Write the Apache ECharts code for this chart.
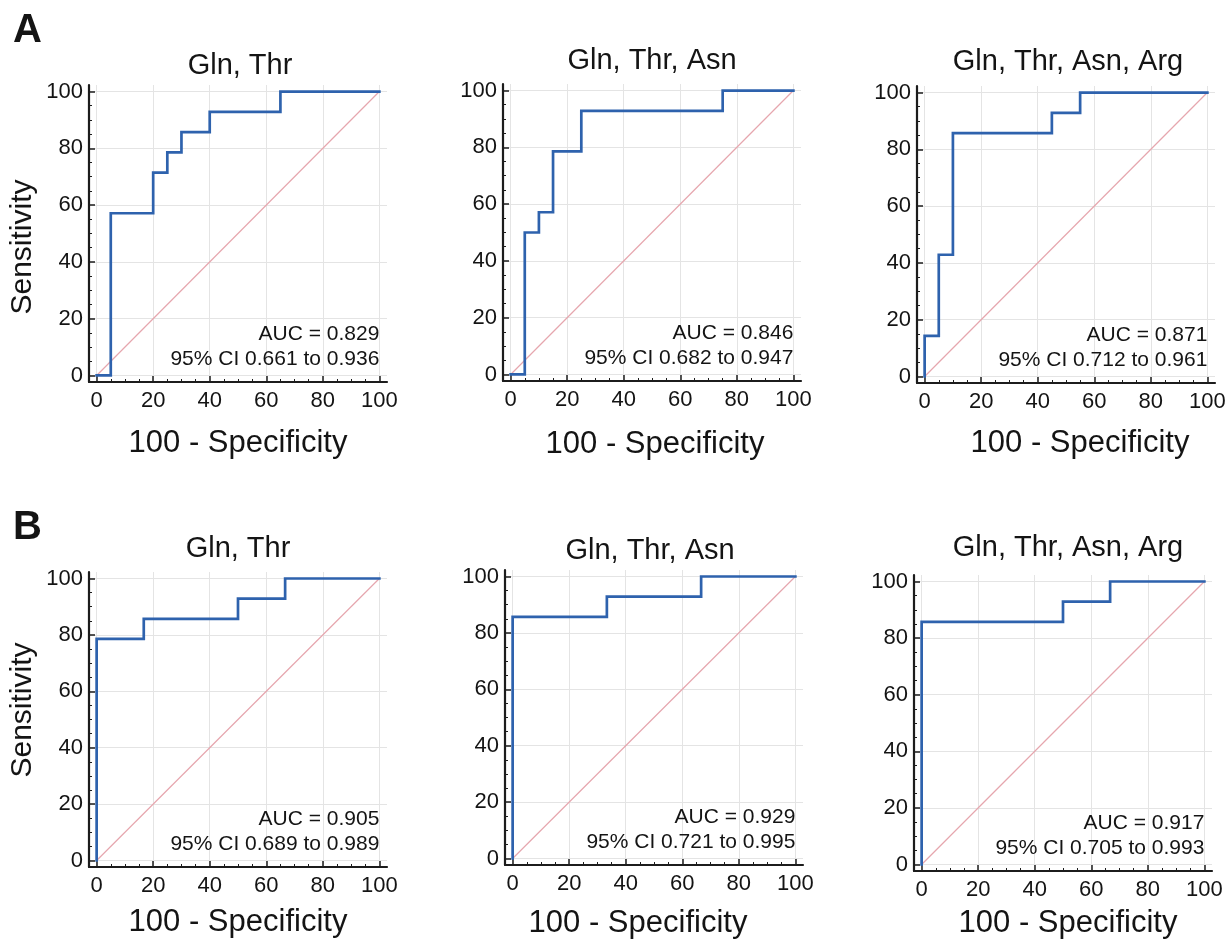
<!DOCTYPE html>
<html>
<head>
<meta charset="utf-8">
<script src="https://cdn.jsdelivr.net/npm/echarts@6/dist/echarts.min.js"></script>
<style>
  html, body { margin: 0; padding: 0; background: #ffffff; }
  #chart { width: 1230px; height: 940px; }
</style>
</head>
<body>
<div id="chart"></div>
<script>
// ---- ROC operating points (100 - specificity, sensitivity), in %, per panel ----
const panelTitles = ['Gln, Thr', 'Gln, Thr, Asn', 'Gln, Thr, Asn, Arg',
                     'Gln, Thr', 'Gln, Thr, Asn', 'Gln, Thr, Asn, Arg'];

const fprA1  = [0, 5, 20, 25, 30, 40, 65, 100];
const sensA1 = [0, 57.14, 71.43, 78.57, 85.71, 92.86, 100, 100];

const fprA2  = [0, 5, 10, 15, 25, 75, 100];
const sensA2 = [0, 50, 57.14, 78.57, 92.86, 100, 100];

const fprA3  = [0, 0, 5, 10, 45, 55, 100];
const sensA3 = [0, 14.29, 42.86, 85.71, 92.86, 100, 100];

const fprB1  = [0, 0, 16.67, 50, 66.67, 100];
const sensB1 = [0, 78.57, 85.71, 92.86, 100, 100];

const fprB2  = [0, 0, 33.33, 66.67, 100];
const sensB2 = [0, 85.71, 92.86, 100, 100];

const fprB3  = [0, 0, 50, 66.67, 100];
const sensB3 = [0, 85.71, 92.86, 100, 100];

const aucValues = ['0.829', '0.846', '0.871', '0.905', '0.929', '0.917'];
const ciLower   = ['0.661', '0.682', '0.712', '0.689', '0.721', '0.705'];
const ciUpper   = ['0.936', '0.947', '0.961', '0.989', '0.995', '0.993'];

// chance diagonal
const chanceX = [0, 100];
const chanceY = [0, 100];

// axis ticks
const xTicks = [0, 20, 40, 60, 80, 100];
const yTicks = [0, 20, 40, 60, 80, 100];
const minorTicks = [5, 10, 15, 25, 30, 35, 45, 50, 55, 65, 70, 75, 85, 90, 95];

const panelLetters = ['A', 'B'];
const xAxisName = '100 - Specificity';
const yAxisName = 'Sensitivity';

// ---- layout (pixels) ----
const FONT = '"Liberation Sans", Arial, Helvetica, sans-serif';
const X_RANGE = [-2.7, 102.7];
const Y_RANGE = [-2.3, 102.3];
const layout = [
  { left: 89,  top: 85,  width: 298, height: 297, titleX: 240,  titleY: 66,  nameX: 238,  nameY: 443 },
  { left: 503, top: 84,  width: 298, height: 297, titleX: 652,  titleY: 61,  nameX: 655,  nameY: 444 },
  { left: 917, top: 86,  width: 298, height: 297, titleX: 1068, titleY: 62,  nameX: 1080, nameY: 443 },
  { left: 89,  top: 572, width: 298, height: 295, titleX: 238,  titleY: 549, nameX: 238,  nameY: 922 },
  { left: 505, top: 570, width: 298, height: 295, titleX: 650,  titleY: 551, nameX: 638,  nameY: 923 },
  { left: 914, top: 575, width: 298, height: 296, titleX: 1068, titleY: 548, nameX: 1068, nameY: 923 }
];

const curves = [
  [fprA1, sensA1], [fprA2, sensA2], [fprA3, sensA3],
  [fprB1, sensB1], [fprB2, sensB2], [fprB3, sensB3]
];

const AXIS_COLOR = '#1c1c1c';
const GRID_COLOR = '#e4e4e4';
const ROC_COLOR = '#2e62ad';
const CHANCE_COLOR = '#e6a6ae';
const TEXT_COLOR = '#141414';

const grids = [], xAxes = [], yAxes = [], series = [];

layout.forEach((l, i) => {
  grids.push({ left: l.left, top: l.top, width: l.width, height: l.height });

  // main x axis: line, major ticks, labels, grid lines
  xAxes.push({
    gridIndex: i, type: 'value', min: X_RANGE[0], max: X_RANGE[1], position: 'bottom',
    axisLine: { show: true, onZero: false, lineStyle: { color: AXIS_COLOR, width: 2.2 } },
    axisTick: { show: true, inside: true, length: 6, customValues: xTicks,
                lineStyle: { color: AXIS_COLOR, width: 1.5 } },
    axisLabel: { customValues: xTicks, margin: 8, fontSize: 22, color: TEXT_COLOR, fontFamily: FONT },
    splitLine: { show: true, lineStyle: { color: GRID_COLOR, width: 1 } }
  });
  // minor x ticks
  xAxes.push({
    gridIndex: i, type: 'value', min: X_RANGE[0], max: X_RANGE[1], position: 'bottom', offset: 0,
    axisLine: { show: false, onZero: false },
    axisTick: { show: true, inside: true, length: 3, customValues: minorTicks,
                lineStyle: { color: AXIS_COLOR, width: 1 } },
    axisLabel: { show: false },
    splitLine: { show: false }
  });

  yAxes.push({
    gridIndex: i, type: 'value', min: Y_RANGE[0], max: Y_RANGE[1], position: 'left',
    axisLine: { show: true, onZero: false, lineStyle: { color: AXIS_COLOR, width: 2.2 } },
    axisTick: { show: true, inside: true, length: 6, customValues: yTicks,
                lineStyle: { color: AXIS_COLOR, width: 1.5 } },
    axisLabel: { customValues: yTicks, margin: 6, fontSize: 22, color: TEXT_COLOR, fontFamily: FONT },
    splitLine: { show: true, lineStyle: { color: GRID_COLOR, width: 1 } }
  });
  yAxes.push({
    gridIndex: i, type: 'value', min: Y_RANGE[0], max: Y_RANGE[1], position: 'left', offset: 0,
    axisLine: { show: false, onZero: false },
    axisTick: { show: true, inside: true, length: 3, customValues: minorTicks,
                lineStyle: { color: AXIS_COLOR, width: 1 } },
    axisLabel: { show: false },
    splitLine: { show: false }
  });

  series.push({
    type: 'line', xAxisIndex: 2 * i, yAxisIndex: 2 * i,
    data: chanceX.map((x, k) => [x, chanceY[k]]),
    symbol: 'none', silent: true, z: 2,
    lineStyle: { color: CHANCE_COLOR, width: 1.2 }
  });

  const [fpr, sens] = curves[i];
  series.push({
    type: 'line', step: 'end', xAxisIndex: 2 * i, yAxisIndex: 2 * i,
    data: fpr.map((x, k) => [x, sens[k]]),
    symbol: 'none', silent: true, z: 3,
    lineStyle: { color: ROC_COLOR, width: 2.7, join: 'miter', cap: 'square' }
  });
});

const chart = echarts.init(document.getElementById('chart'), null, { renderer: 'canvas' });

chart.setOption({
  animation: false,
  backgroundColor: '#ffffff',
  grid: grids,
  xAxis: xAxes,
  yAxis: yAxes,
  series: series
});

// ---- text: panel letters, titles, axis names, AUC annotations ----
const graphics = [];
const textEl = (x, y, text, font, align, rotation) => ({
  type: 'text', x: x, y: y, rotation: rotation || 0, silent: true,
  style: { text: text, font: font, fill: TEXT_COLOR, align: align, verticalAlign: 'middle' }
});

graphics.push(textEl(13, 31, panelLetters[0], 'bold 40px ' + FONT, 'left'));
graphics.push(textEl(13, 528, panelLetters[1], 'bold 40px ' + FONT, 'left'));

graphics.push(textEl(23, 247, yAxisName, '30px ' + FONT, 'center', Math.PI / 2));
graphics.push(textEl(23, 710, yAxisName, '30px ' + FONT, 'center', Math.PI / 2));

layout.forEach((l, i) => {
  graphics.push(textEl(l.titleX, l.titleY, panelTitles[i], '29px ' + FONT, 'center'));
  graphics.push(textEl(l.nameX, l.nameY, xAxisName, '31px ' + FONT, 'center'));

  const p = chart.convertToPixel({ xAxisIndex: 2 * i, yAxisIndex: 2 * i }, [100, 0]);
  graphics.push(textEl(p[0], p[1] - 41.5, 'AUC = ' + aucValues[i], '21px ' + FONT, 'right'));
  graphics.push(textEl(p[0], p[1] - 16.5, '95% CI ' + ciLower[i] + ' to ' + ciUpper[i], '21px ' + FONT, 'right'));
});

chart.setOption({ graphic: graphics });
</script>
</body>
</html>
